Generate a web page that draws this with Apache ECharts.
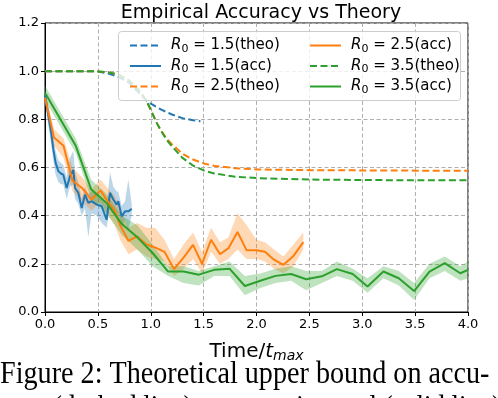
<!DOCTYPE html>
<html>
<head>
<meta charset="utf-8">
<script src="https://cdn.jsdelivr.net/npm/echarts@6/dist/echarts.min.js"></script>
<style>
html, body { margin: 0; padding: 0; background: #fff; }
#chart { position: absolute; left: 0; top: 0; width: 498px; height: 398px; }
</style>
</head>
<body>
<div id="chart"></div>
<script>
// theoretical curves [t, accuracy]
var theo15 = [[0,1],[0.2,1],[0.4,1],[0.5,0.999],[0.6,0.99],[0.7,0.975],[0.8,0.95],[0.9,0.905],[0.96,0.878],[1.0,0.865],[1.1,0.84],[1.2,0.82],[1.3,0.805],[1.4,0.796],[1.47,0.792]];
var theo25 = [[0,1],[0.2,1],[0.4,1],[0.5,0.999],[0.6,0.995],[0.7,0.985],[0.8,0.96],[0.9,0.915],[0.96,0.876],[1.0,0.84],[1.05,0.79],[1.1,0.752],[1.15,0.72],[1.2,0.697],[1.3,0.657],[1.4,0.633],[1.5,0.617],[1.6,0.607],[1.8,0.597],[2.0,0.592],[2.5,0.589],[3.0,0.588],[3.5,0.587],[4.0,0.587]];
var theo35 = [[0,1],[0.2,1],[0.4,1],[0.5,0.999],[0.6,0.995],[0.7,0.985],[0.8,0.96],[0.9,0.915],[0.96,0.876],[1.0,0.84],[1.05,0.79],[1.1,0.75],[1.15,0.715],[1.2,0.688],[1.3,0.64],[1.4,0.608],[1.5,0.588],[1.6,0.575],[1.8,0.562],[2.0,0.556],[2.5,0.55],[3.0,0.548],[3.5,0.547],[4.0,0.547]];

// empirical accuracy: time, mean, lower, upper
var accT15 = [0,0.03,0.06,0.079,0.1,0.126,0.15,0.173,0.205,0.236,0.268,0.284,0.315,0.347,0.378,0.41,0.44,0.49,0.536,0.583,0.615,0.646,0.678,0.693,0.725,0.757,0.788,0.82];
var acc15  = [0.9,0.82,0.74,0.675,0.62,0.585,0.575,0.57,0.515,0.564,0.59,0.515,0.495,0.432,0.487,0.453,0.46,0.446,0.439,0.383,0.495,0.467,0.446,0.46,0.397,0.418,0.418,0.428];
var lo15   = [0.87,0.78,0.69,0.63,0.57,0.54,0.53,0.53,0.47,0.52,0.53,0.47,0.45,0.40,0.43,0.31,0.41,0.40,0.37,0.35,0.44,0.42,0.40,0.41,0.35,0.38,0.34,0.40];
var hi15   = [0.93,0.86,0.79,0.72,0.67,0.63,0.62,0.61,0.56,0.64,0.67,0.58,0.54,0.47,0.52,0.49,0.50,0.49,0.47,0.44,0.58,0.52,0.50,0.50,0.44,0.46,0.55,0.45];

var accT25 = [0,0.085,0.175,0.26,0.35,0.44,0.525,0.6,0.66,0.71,0.79,0.87,0.96,1.04,1.13,1.22,1.31,1.4,1.485,1.57,1.655,1.735,1.82,1.907,2.0,2.08,2.165,2.255,2.35,2.443];
var acc25  = [0.89,0.725,0.69,0.545,0.515,0.467,0.505,0.455,0.42,0.36,0.295,0.314,0.28,0.268,0.25,0.178,0.226,0.279,0.2,0.3,0.24,0.265,0.332,0.256,0.256,0.25,0.217,0.196,0.233,0.29];
var lo25   = [0.87,0.69,0.64,0.50,0.46,0.42,0.46,0.40,0.36,0.30,0.24,0.26,0.23,0.22,0.21,0.15,0.18,0.22,0.16,0.25,0.20,0.22,0.26,0.22,0.22,0.21,0.18,0.16,0.19,0.26];
var hi25   = [0.91,0.76,0.72,0.60,0.56,0.51,0.55,0.51,0.48,0.43,0.35,0.37,0.35,0.35,0.30,0.22,0.28,0.33,0.25,0.35,0.29,0.31,0.41,0.36,0.30,0.29,0.26,0.23,0.28,0.33];

var accT35 = [0,0.1455,0.291,0.436,0.582,0.727,0.873,1.018,1.164,1.31,1.455,1.6,1.745,1.89,2.036,2.18,2.327,2.47,2.618,2.76,2.91,3.05,3.2,3.345,3.49,3.636,3.78,3.927,4.0];
var acc35  = [0.91,0.8,0.69,0.51,0.453,0.365,0.31,0.245,0.168,0.168,0.155,0.175,0.18,0.108,0.13,0.15,0.158,0.136,0.148,0.178,0.158,0.106,0.168,0.14,0.087,0.168,0.203,0.161,0.175];
var lo35   = [0.88,0.77,0.66,0.47,0.41,0.32,0.26,0.19,0.15,0.12,0.11,0.15,0.15,0.07,0.10,0.12,0.13,0.09,0.12,0.15,0.13,0.08,0.14,0.11,0.05,0.14,0.17,0.13,0.14];
var hi35   = [0.94,0.83,0.72,0.55,0.49,0.40,0.36,0.28,0.19,0.19,0.17,0.19,0.21,0.15,0.16,0.18,0.19,0.17,0.17,0.21,0.18,0.14,0.19,0.17,0.12,0.20,0.23,0.19,0.21];

var xTicks = [0, 0.5, 1.0, 1.5, 2.0, 2.5, 3.0, 3.5, 4.0];
var yTicks = [0, 0.2, 0.4, 0.6, 0.8, 1.0, 1.2];
var names = ['1.5(theo)', '1.5(acc)', '2.5(theo)', '2.5(acc)', '3.5(theo)', '3.5(acc)'];

var blue = '#1f77b4', orange = '#ff7f0e', green = '#2ca02c';
var font = 'DejaVu Sans';

function zip(a, b) {
    var out = [];
    for (var i = 0; i < a.length; i++) out.push([a[i], b[i]]);
    return out;
}

function lineSeries(name, data, color, dashed) {
    return {
        name: name,
        type: 'line',
        data: data,
        symbol: 'none',
        silent: true,
        animation: false,
        color: color,
        lineStyle: { color: color, width: 2, type: dashed ? [7, 3.5] : 'solid' }
    };
}

function bandSeries(t, lo, hi, color) {
    return {
        type: 'custom',
        silent: true,
        animation: false,
        data: [[0, 0]],
        renderItem: function (params, api) {
            var pts = [];
            for (var i = 0; i < t.length; i++) pts.push(api.coord([t[i], hi[i]]));
            for (var j = t.length - 1; j >= 0; j--) pts.push(api.coord([t[j], lo[j]]));
            return { type: 'polygon', shape: { points: pts }, style: { fill: color, opacity: 0.3 } };
        }
    };
}

var rich = {
    i: { fontFamily: font, fontStyle: 'italic', fontSize: 15, color: '#000', padding: [0, 0, 0, 5] },
    s: { fontFamily: font, fontSize: 11, color: '#000', padding: [7, 0, 0, 0] },
    n: { fontFamily: font, fontSize: 15, color: '#000' }
};
function legendFmt(name) {
    return '{i|R}{s|0}{n| = ' + name + '}';
}
function legendCfg(data, left) {
    return {
        data: data,
        orient: 'vertical',
        left: left,
        top: 33,
        itemGap: 4,
        itemWidth: 31,
        itemHeight: 14,
        z: 20,
        selectedMode: false,
        formatter: legendFmt,
        itemStyle: { opacity: 0 },
        textStyle: { fontFamily: font, fontSize: 15, color: '#000', rich: rich }
    };
}

var dom = document.getElementById('chart');
var myChart = echarts.init(dom, null, { renderer: 'canvas' });
var option = {
    backgroundColor: '#fff',
    animation: false,
    title: {
        text: 'Empirical Accuracy vs Theory',
        left: 256,
        textAlign: 'center',
        top: -1,
        textStyle: { fontFamily: font, fontSize: 19, fontWeight: 'normal', color: '#000' }
    },
    legend: [
        legendCfg([names[0], names[1], names[2]], 124),
        legendCfg([names[3], names[4], names[5]], 304)
    ],
    grid: {
        left: 45, right: 30, top: 23, bottom: 86,
        show: true, borderColor: '#000', borderWidth: 1, backgroundColor: 'transparent'
    },
    xAxis: {
        type: 'value',
        min: 0, max: 4, interval: 0.5,
        name: '{a|Time/}{b|t}{c|max}',
        nameLocation: 'middle',
        nameGap: 28,
        nameTextStyle: {
            rich: {
                a: { fontFamily: font, fontSize: 20, color: '#000' },
                b: { fontFamily: font, fontSize: 20, fontStyle: 'italic', color: '#000' },
                c: { fontFamily: font, fontSize: 14, fontStyle: 'italic', color: '#000', padding: [9, 0, 0, 0] }
            }
        },
        axisLine: { lineStyle: { color: '#000', width: 1 } },
        axisTick: { show: true, inside: false, length: 4, lineStyle: { color: '#000' } },
        axisLabel: {
            fontFamily: font, fontSize: 13, color: '#000', margin: 6,
            formatter: function (v) { return v.toFixed(1); }
        },
        splitLine: { show: true, lineStyle: { color: '#b0b0b0', type: [4, 2.5], width: 1 } }
    },
    yAxis: {
        type: 'value',
        min: 0, max: 1.2, interval: 0.2,
        axisLine: { show: true, lineStyle: { color: '#000', width: 1 } },
        axisTick: { show: true, inside: false, length: 4, lineStyle: { color: '#000' } },
        axisLabel: {
            fontFamily: font, fontSize: 13, color: '#000', margin: 6,
            formatter: function (v) { return v.toFixed(1); }
        },
        splitLine: { show: true, lineStyle: { color: '#b0b0b0', type: [4, 2.5], width: 1 } }
    },
    graphic: [
        {
            type: 'rect', z: 10, silent: true,
            shape: { x: 118.5, y: 31.5, width: 342, height: 69, r: 3 },
            style: { fill: 'rgba(255,255,255,0.8)', stroke: '#cccccc', lineWidth: 1 }
        },
        {
            type: 'text', z: 10, x: 0, y: 359, scaleX: 0.88, silent: true,
            style: { text: 'Figure 2: Theoretical upper bound on accu-', fontFamily: 'Liberation Serif', fontSize: 32, fill: '#000' }
        },
        {
            type: 'text', z: 10, x: 0, y: 393, scaleX: 0.84, silent: true,
            style: { text: 'racy (dashed line) vs. experimental (solid line)', fontFamily: 'Liberation Serif', fontSize: 32, fill: '#000' }
        }
    ],
    series: [
        lineSeries(names[0], theo15, blue, true),
        bandSeries(accT15, lo15, hi15, blue),
        lineSeries(names[1], zip(accT15, acc15), blue, false),
        lineSeries(names[2], theo25, orange, true),
        bandSeries(accT25, lo25, hi25, orange),
        lineSeries(names[3], zip(accT25, acc25), orange, false),
        lineSeries(names[4], theo35, green, true),
        bandSeries(accT35, lo35, hi35, green),
        lineSeries(names[5], zip(accT35, acc35), green, false)
    ]
};
myChart.setOption(option, true);
</script>
</body>
</html>
